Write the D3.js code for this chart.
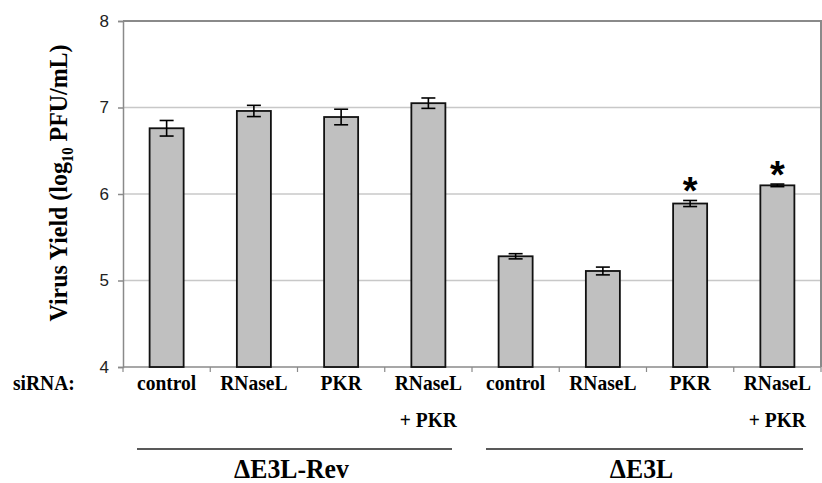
<!DOCTYPE html>
<html>
<head>
<meta charset="utf-8">
<script src="https://cdn.jsdelivr.net/npm/d3@7"></script>
<style>
  html, body { margin: 0; padding: 0; background: #fff; }
  svg { display: block; }
</style>
</head>
<body>
<svg id="chart" width="822" height="483"></svg>
<script>
// ---- data ----
const categories = ["control", "RNaseL", "PKR", "RNaseL|+ PKR", "control", "RNaseL", "PKR", "RNaseL|+ PKR"];
const values = [6.76, 6.96, 6.89, 7.05, 5.28, 5.11, 5.89, 6.10];
const errors = [0.09, 0.065, 0.09, 0.06, 0.03, 0.045, 0.035, 0.015];
const significant = [false, false, false, false, false, false, true, true];
const yTicks = [4, 5, 6, 7, 8];
const groups = ["ΔE3L-Rev", "ΔE3L"];
const groupMembers = [[0, 3], [4, 7]];
const rowLabel = "siRNA:";

// ---- layout ----
const svg = d3.select("#chart");
const L = 123, R = 821, T = 21, B = 367;
const x = d3.scaleBand().domain(d3.range(categories.length)).range([L, R]).padding(0);
const y = d3.scaleLinear().domain([4, 8]).range([B, T]);
const barW = x.bandwidth() * 0.39;
const serif = "Liberation Serif, Times New Roman, serif";
const sans = "Liberation Sans, Arial, sans-serif";

function serifText(parent, px, py, txt, size, anchor, sx) {
  return parent.append("text")
    .attr("transform", `translate(${px},${py}) scale(${sx},1)`)
    .attr("text-anchor", anchor)
    .attr("font-family", serif).attr("font-weight", "bold").attr("font-size", size)
    .attr("fill", "#000")
    .text(txt);
}

// gridlines
svg.append("g").selectAll("line").data(yTicks.filter(d => d > 4 && d < 8)).join("line")
  .attr("x1", L).attr("x2", R).attr("y1", d => y(d)).attr("y2", d => y(d))
  .attr("stroke", "#c8c8c8").attr("stroke-width", 1.5);

// frame (top & right)
svg.append("path")
  .attr("d", `M${L},${T}H${R}V${B}`)
  .attr("fill", "none").attr("stroke", "#8a8a8a").attr("stroke-width", 2);

// y axis
const yAxis = d3.axisLeft(y).tickValues(yTicks).tickFormat(d3.format("d")).tickSize(5).tickPadding(9);
const ga = svg.append("g").attr("transform", `translate(${L},0)`).call(yAxis);
ga.select(".domain").attr("stroke", "#8a8a8a").attr("stroke-width", 1.5);
ga.selectAll(".tick line").attr("stroke", "#8a8a8a").attr("stroke-width", 1.5);
ga.selectAll(".tick text").attr("font-family", sans).attr("font-size", 17).attr("fill", "#222");

// x axis line + ticks
svg.append("line").attr("x1", L).attr("x2", R).attr("y1", B).attr("y2", B)
  .attr("stroke", "#8a8a8a").attr("stroke-width", 1.5);
svg.append("g").selectAll("line").data(d3.range(categories.length + 1)).join("line")
  .attr("x1", i => i < categories.length ? x(i) : R)
  .attr("x2", i => i < categories.length ? x(i) : R)
  .attr("y1", B).attr("y2", B + 5)
  .attr("stroke", "#8a8a8a").attr("stroke-width", 1.2);

// bars
svg.append("g").selectAll("rect").data(values).join("rect")
  .attr("x", (d, i) => x(i) + x.bandwidth() / 2 - barW / 2)
  .attr("y", d => y(d))
  .attr("width", barW)
  .attr("height", d => y(4) - y(d))
  .attr("fill", "#c0c0c0").attr("stroke", "#111").attr("stroke-width", 1.8);

// error bars
const capW = 14;
const eg = svg.append("g").attr("stroke", "#000").attr("stroke-width", 1.6);
values.forEach((v, i) => {
  const cx = x(i) + x.bandwidth() / 2;
  const e = errors[i];
  eg.append("line").attr("x1", cx).attr("x2", cx).attr("y1", y(v + e)).attr("y2", y(v - e));
  eg.append("line").attr("x1", cx - capW / 2).attr("x2", cx + capW / 2).attr("y1", y(v + e)).attr("y2", y(v + e));
  eg.append("line").attr("x1", cx - capW / 2).attr("x2", cx + capW / 2).attr("y1", y(v - e)).attr("y2", y(v - e));
});

// asterisks
svg.append("g").selectAll("text").data(values.map((v, i) => ({ v, i })).filter(d => significant[d.i])).join("text")
  .attr("x", d => x(d.i) + x.bandwidth() / 2)
  .attr("y", d => y(d.v + errors[d.i]) + 4)
  .attr("text-anchor", "middle")
  .attr("font-family", sans).attr("font-weight", "bold").attr("font-size", 38)
  .attr("fill", "#000")
  .text("*");

// category labels
const lab = svg.append("g");
categories.forEach((c, i) => {
  c.split("|").forEach((line, k) => {
    serifText(lab, x(i) + x.bandwidth() / 2, 390 + k * 37, line, 21, "middle", 0.93);
  });
});
serifText(lab, 13, 390, rowLabel, 21, "start", 0.93);

// group lines and labels
groups.forEach((g, gi) => {
  const [a, b] = groupMembers[gi];
  const x1 = x(a) + 14, x2 = x(b) + x.bandwidth() - 20 + (gi === 1 ? 2 : 0);
  svg.append("line").attr("x1", x1).attr("x2", x2).attr("y1", 449).attr("y2", 449)
    .attr("stroke", "#222").attr("stroke-width", 1.6);
  serifText(svg, (x1 + x2) / 2 - 3, 478, g, 28, "middle", 0.92);
});

// y title
const yt = svg.append("text")
  .attr("transform", "translate(67,183) rotate(-90) scale(0.92,1)")
  .attr("text-anchor", "middle")
  .attr("font-family", serif).attr("font-weight", "bold").attr("font-size", 26)
  .attr("fill", "#000");
yt.append("tspan").text("Virus Yield (log");
yt.append("tspan").attr("font-size", 16).attr("dy", 6).text("10");
yt.append("tspan").attr("dy", -6).text(" PFU/mL)");
</script>
</body>
</html>
